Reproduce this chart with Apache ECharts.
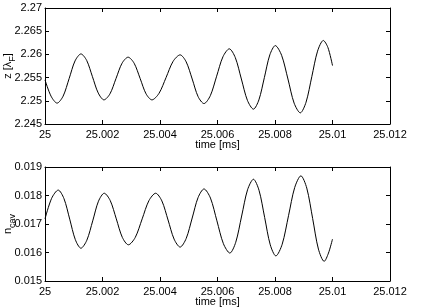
<!DOCTYPE html>
<html><head><meta charset="utf-8">
<script src="https://cdn.jsdelivr.net/npm/echarts@6/dist/echarts.min.js"></script>
<style>html,body{margin:0;padding:0;background:#fff}#c{width:436px;height:308px}</style>
</head><body><div id="c"></div>
<script>
// Top panel: z [lambda_F] vs time [ms]
const tTop = [25.0000, 25.00021, 25.00042, 25.00063, 25.00084, 25.001045, 25.00125, 25.00145, 25.00165, 25.00185, 25.00205, 25.00226, 25.00247, 25.00268, 25.00289, 25.0031, 25.00331, 25.003515, 25.00372, 25.003965, 25.00421, 25.004455, 25.0047, 25.00491, 25.00512, 25.005325, 25.00553, 25.00575, 25.00597, 25.00619, 25.00641, 25.00662, 25.00683, 25.00704, 25.00725, 25.00744, 25.00763, 25.00782, 25.00801, 25.00823, 25.00845, 25.008665, 25.00888, 25.00908, 25.00928, 25.00948, 25.00968, 25.00984, 25.0100];
const zTop = [2.2545, 2.2510, 2.2495, 2.2510, 2.2548, 2.2586, 2.2601, 2.2587, 2.2552, 2.2517, 2.2502, 2.2515, 2.2548, 2.2581, 2.2594, 2.2581, 2.2548, 2.2515, 2.2502, 2.2516, 2.2550, 2.2585, 2.2599, 2.2584, 2.2547, 2.2509, 2.2494, 2.2511, 2.2553, 2.2595, 2.2612, 2.2593, 2.2547, 2.2501, 2.2482, 2.2502, 2.2550, 2.2599, 2.2619, 2.2598, 2.2547, 2.2495, 2.2474, 2.2497, 2.2552, 2.2607, 2.2630, 2.2615, 2.2576];
// Bottom panel: n_cav vs time [ms]
const tBot = [25.0000, 25.00023, 25.00046, 25.00066, 25.00086, 25.001055, 25.00125, 25.001455, 25.00166, 25.00186, 25.00206, 25.00227, 25.00248, 25.00269, 25.0029, 25.00314, 25.00338, 25.003615, 25.00385, 25.004065, 25.00428, 25.00449, 25.0047, 25.00491, 25.00512, 25.005325, 25.00553, 25.005755, 25.00598, 25.006205, 25.00643, 25.006635, 25.00684, 25.007045, 25.00725, 25.007445, 25.00764, 25.007835, 25.00803, 25.00825, 25.00847, 25.008685, 25.0089, 25.009105, 25.00931, 25.00951, 25.00971, 25.00986, 25.0100];
const nBot = [0.01718, 0.01790, 0.01819, 0.01789, 0.01717, 0.01645, 0.01615, 0.01643, 0.01711, 0.01780, 0.01808, 0.01782, 0.01718, 0.01653, 0.01627, 0.01653, 0.01718, 0.01782, 0.01808, 0.01781, 0.01714, 0.01647, 0.01619, 0.01649, 0.01721, 0.01793, 0.01823, 0.01791, 0.01711, 0.01631, 0.01598, 0.01636, 0.01728, 0.01820, 0.01857, 0.01818, 0.01723, 0.01627, 0.01588, 0.01629, 0.01729, 0.01828, 0.01869, 0.01826, 0.01719, 0.01612, 0.01569, 0.01598, 0.01647];
// Axis ranges / ticks
const xRange = {min: 25, max: 25.012, interval: 0.002};
const yTopRange = {min: 2.245, max: 2.27, interval: 0.005};
const yBotRange = {min: 0.015, max: 0.019, interval: 0.001};

const FONT = "'Liberation Sans', Arial, Helvetica, sans-serif";
const fmt = v => String(parseFloat(v.toFixed(4)));
const lineAx = {show: true, lineStyle: {color: '#000', width: 1}};
const tickIn = {show: true, inside: true, length: 4, lineStyle: {color: '#000', width: 1}};
const lbl = {color: '#000', fontSize: 11, fontFamily: FONT, formatter: fmt, margin: 5};

function xAx(g, pos, withLabel) {
  const a = Object.assign({gridIndex: g, type: 'value', position: pos, axisLine: lineAx, axisTick: tickIn, splitLine: {show: false}}, xRange);
  if (withLabel) {
    a.axisLabel = lbl; a.name = 'time [ms]'; a.nameLocation = 'middle'; a.nameGap = 15; a.nameMoveOverlap = false;
    a.nameTextStyle = {color: '#000', fontSize: 11, fontFamily: FONT};
  } else a.axisLabel = {show: false};
  return a;
}
function yAx(g, pos, range, withLabel, name) {
  const a = Object.assign({gridIndex: g, type: 'value', position: pos, axisLine: lineAx, axisTick: tickIn, splitLine: {show: false}}, range);
  if (withLabel) {
    a.axisLabel = Object.assign({}, lbl, {margin: 3}); a.name = name; a.nameLocation = 'middle'; a.nameGap = 28; a.nameMoveOverlap = false;
    a.nameTextStyle = {color: '#000', fontSize: 11, fontFamily: FONT,
      rich: {n: {fontSize: 11, fontFamily: FONT, color: '#000'}, sub: {fontSize: 9, fontFamily: FONT, color: '#000', padding: [10, 0, 0, 0]}}};
  } else a.axisLabel = {show: false};
  return a;
}
function pairs(t, v) { return t.map((x, i) => [x, v[i]]); }

const chart = echarts.init(document.getElementById('c'), null, {renderer: 'canvas'});
chart.setOption({
  animation: false,
  backgroundColor: '#fff',
  grid: [
    {left: 45, top: 8, width: 345, height: 116, outerBoundsMode: 'none', containLabel: false},
    {left: 45, top: 167, width: 345, height: 114, outerBoundsMode: 'none', containLabel: false}
  ],
  xAxis: [xAx(0, 'bottom', true), xAx(0, 'top', false), xAx(1, 'bottom', true), xAx(1, 'top', false)],
  yAxis: [
    yAx(0, 'left', yTopRange, true, '{n|z [λ}{sub|F}{n|]}'), yAx(0, 'right', yTopRange, false),
    yAx(1, 'left', yBotRange, true, '{n|n}{sub|cav}'), yAx(1, 'right', yBotRange, false)
  ],
  series: [
    {type: 'line', xAxisIndex: 0, yAxisIndex: 0, data: pairs(tTop, zTop), showSymbol: false, smooth: 0.3, lineStyle: {color: '#000', width: 1}},
    {type: 'line', xAxisIndex: 2, yAxisIndex: 2, data: pairs(tBot, nBot), showSymbol: false, smooth: 0.3, lineStyle: {color: '#000', width: 1}}
  ]
});
</script></body></html>
